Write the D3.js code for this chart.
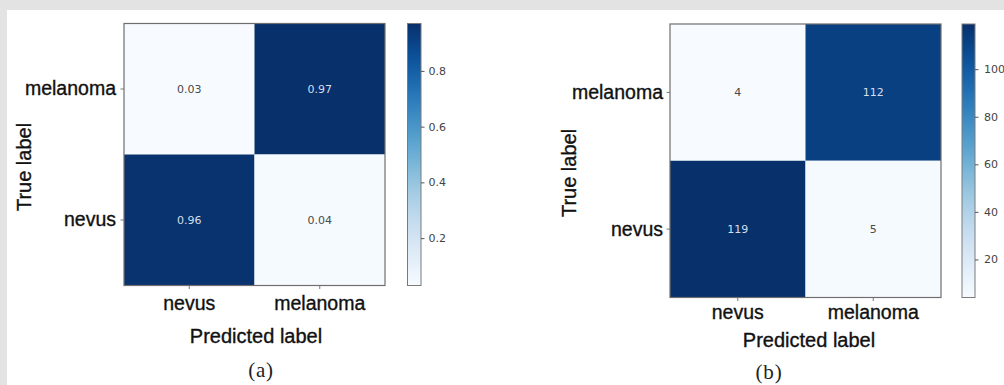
<!DOCTYPE html>
<html>
<head>
<meta charset="utf-8">
<script src="https://cdn.jsdelivr.net/npm/d3@7"></script>
<style>
  html, body { margin: 0; padding: 0; background: #e3e3e3; }
  svg { display: block; }
</style>
</head>
<body>
<svg id="chart" width="1004" height="385"></svg>
<script>
// ---------- data ----------
const predictedLabels = ["nevus", "melanoma"];          // columns
const trueLabels = ["melanoma", "nevus"];               // rows, top to bottom
const normalizedValues = [[0.03, 0.97], [0.96, 0.04]];  // panel (a)
const countValues = [[4, 112], [119, 5]];               // panel (b)
const normalizedTicks = [0.2, 0.4, 0.6, 0.8];
const countTicks = [20, 40, 60, 80, 100];
const normalizedRange = [0.03, 0.97];
const countRange = [4, 119];
const captions = ["(a)", "(b)"];

// ---------- layout ----------
const svg = d3.select("#chart");
svg.append("rect").attr("x", 0).attr("y", 0).attr("width", 1004).attr("height", 385).attr("fill", "#e3e3e3");
svg.append("rect").attr("x", 7).attr("y", 10).attr("width", 997).attr("height", 375).attr("fill", "#ffffff");

const defs = svg.append("defs");

const panels = [
  {
    id: "a", values: normalizedValues, ticks: normalizedTicks, range: normalizedRange,
    fmt: d3.format(".2f"), tickFmt: d3.format(".1f"), caption: captions[0],
    hx0: 124, hx1: 385, hy0: 23.5, hy1: 285.5,
    cbx0: 407.5, cbx1: 421,
    yPad: 4.5, xPad: 7.5, cbPad: 4,
    titleX: 256, titleY: 343, trueX: 31, trueY: 167,
    capX: 261, capY: 377
  },
  {
    id: "b", values: countValues, ticks: countTicks, range: countRange,
    fmt: d3.format("d"), tickFmt: d3.format("d"), caption: captions[1],
    hx0: 670, hx1: 941, hy0: 24, hy1: 297.5,
    cbx0: 962, cbx1: 975,
    yPad: 3.5, xPad: 4.5, cbPad: 5.5,
    titleX: 809, titleY: 347, trueX: 576, trueY: 173,
    capX: 769, capY: 378.5
  }
];

const labelFont = "'Liberation Sans', Arial, sans-serif";
const smallFont = "'DejaVu Sans', sans-serif";

function heavy(sel) {
  sel.attr("stroke", "#111").attr("stroke-width", 0.35);
}

panels.forEach(p => {
  const g = svg.append("g");
  const x = d3.scaleBand().domain(predictedLabels).range([p.hx0, p.hx1]);
  const y = d3.scaleBand().domain(trueLabels).range([p.hy0, p.hy1]);
  const color = d3.scaleSequential(d3.interpolateBlues).domain(p.range);
  const mid = (p.range[0] + p.range[1]) / 2;

  const cells = [];
  trueLabels.forEach((t, i) => predictedLabels.forEach((c, j) => cells.push({ t, c, v: p.values[i][j] })));

  g.selectAll("rect.cell").data(cells).join("rect")
    .attr("class", "cell")
    .attr("x", d => x(d.c)).attr("y", d => y(d.t))
    .attr("width", x.bandwidth()).attr("height", y.bandwidth())
    .attr("fill", d => color(d.v));

  g.selectAll("text.val").data(cells).join("text")
    .attr("class", "val")
    .attr("x", d => x(d.c) + x.bandwidth() / 2)
    .attr("y", d => y(d.t) + y.bandwidth() / 2)
    .attr("dy", "0.35em")
    .attr("text-anchor", "middle")
    .attr("font-family", smallFont).attr("font-size", 11)
    .attr("fill", d => d.v > mid ? "#d5deeb" : "#4a4a4a")
    .text(d => p.fmt(d.v));

  // frame
  g.append("rect")
    .attr("x", p.hx0).attr("y", p.hy0)
    .attr("width", p.hx1 - p.hx0).attr("height", p.hy1 - p.hy0)
    .attr("fill", "none").attr("stroke", "#6e6e6e").attr("stroke-width", 1.2);

  // y axis
  const ya = g.append("g").attr("transform", `translate(${p.hx0},0)`)
    .call(d3.axisLeft(y).tickSize(3.5).tickPadding(p.yPad));
  ya.select(".domain").remove();
  ya.selectAll("line").attr("stroke", "#777");
  ya.selectAll("text").attr("font-family", labelFont).attr("font-size", 19.5).attr("fill", "#111").attr("dy", "0.33em").call(heavy);

  // x axis
  const xa = g.append("g").attr("transform", `translate(0,${p.hy1})`)
    .call(d3.axisBottom(x).tickSize(3.5).tickPadding(p.xPad));
  xa.select(".domain").remove();
  xa.selectAll("line").attr("stroke", "#777");
  xa.selectAll("text").attr("font-family", labelFont).attr("font-size", 19.5).attr("fill", "#111").call(heavy);

  // axis titles
  g.append("text")
    .attr("x", p.titleX).attr("y", p.titleY)
    .attr("text-anchor", "middle")
    .attr("font-family", labelFont).attr("font-size", 20).attr("fill", "#111")
    .call(heavy)
    .text("Predicted label");
  g.append("text")
    .attr("transform", `translate(${p.trueX},${p.trueY}) rotate(-90)`)
    .attr("text-anchor", "middle")
    .attr("font-family", labelFont).attr("font-size", 20).attr("fill", "#111")
    .call(heavy)
    .text("True label");

  // colorbar
  const gradId = "grad-" + p.id;
  const grad = defs.append("linearGradient").attr("id", gradId)
    .attr("x1", 0).attr("y1", 1).attr("x2", 0).attr("y2", 0);
  d3.range(0, 1.0001, 0.05).forEach(s => {
    grad.append("stop").attr("offset", s).attr("stop-color", d3.interpolateBlues(s));
  });
  g.append("rect")
    .attr("x", p.cbx0).attr("y", p.hy0)
    .attr("width", p.cbx1 - p.cbx0).attr("height", p.hy1 - p.hy0)
    .attr("fill", `url(#${gradId})`)
    .attr("stroke", "#7a7a7a").attr("stroke-width", 1);

  const cy = d3.scaleLinear().domain(p.range).range([p.hy1, p.hy0]);
  const ca = g.append("g").attr("transform", `translate(${p.cbx1},0)`)
    .call(d3.axisRight(cy).tickValues(p.ticks).tickFormat(p.tickFmt).tickSize(3.5).tickPadding(p.cbPad));
  ca.select(".domain").remove();
  ca.selectAll("line").attr("stroke", "#555");
  ca.selectAll("text").attr("font-family", smallFont).attr("font-size", 11).attr("fill", "#444");

  // caption
  g.append("text")
    .attr("x", p.capX).attr("y", p.capY)
    .attr("text-anchor", "middle")
    .attr("font-family", "'Liberation Serif', 'Times New Roman', serif")
    .attr("font-size", 21).attr("fill", "#222")
    .attr("letter-spacing", 0.8)
    .text(p.caption);
});
</script>
</body>
</html>
